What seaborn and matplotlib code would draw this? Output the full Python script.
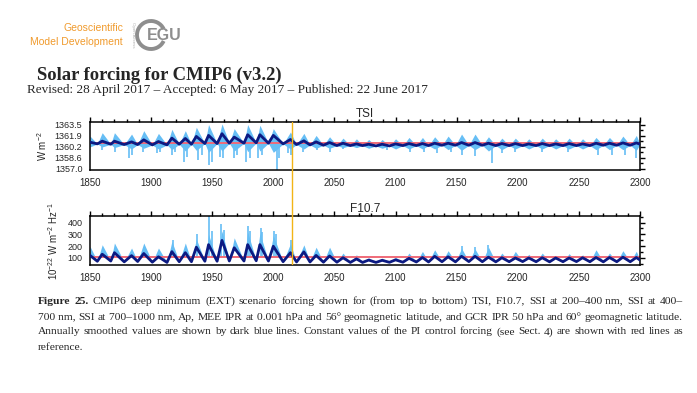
import numpy as np
import pandas as pd
import matplotlib
matplotlib.use("Agg")
import matplotlib.pyplot as plt
import seaborn as sns
from matplotlib.ticker import MultipleLocator, AutoMinorLocator
from matplotlib.patches import Arc
import matplotlib.transforms as mtransforms

# ------------------------------------------------------------------ data
# solar-cycle turning points (years)
max_years = [1850, 1860, 1870, 1884, 1894, 1906, 1917, 1928, 1937, 1947,
             1958, 1968, 1979, 1989, 2000, 2014, 2025, 2035, 2046, 2057,
             2068, 2078, 2089, 2100, 2111, 2122, 2132, 2143, 2154, 2165,
             2176, 2187, 2198, 2209, 2220, 2231, 2242, 2253, 2264, 2275,
             2286, 2297]
min_years = [1856, 1867, 1878, 1889, 1901, 1913, 1923, 1933, 1944, 1954,
             1964, 1976, 1986, 1996, 2008, 2019, 2030, 2041, 2052, 2063,
             2073, 2084, 2095, 2106, 2117, 2127, 2138, 2149, 2160, 2171,
             2182, 2193, 2204, 2215, 2226, 2237, 2248, 2259, 2270, 2281,
             2292, 2300]

# TSI (W m-2): annually smoothed values at maxima / minima, monthly band at maxima
tsi_at_max = [1360.90, 1361.05, 1361.05, 1360.95, 1361.25, 1361.00, 1361.50, 1361.45, 1361.75, 1361.90,
              1362.15, 1361.65, 1362.00, 1362.00, 1361.90, 1361.30, 1361.10, 1360.95, 1360.85, 1360.75,
              1360.65, 1360.60, 1360.60, 1360.65, 1360.70, 1360.70, 1360.75, 1360.75, 1360.85, 1360.85,
              1360.75, 1360.70, 1360.70, 1360.65, 1360.70, 1360.65, 1360.70, 1360.65, 1360.75, 1360.75,
              1360.80, 1360.80]
tsi_at_min = [1360.65, 1360.60, 1360.55, 1360.55, 1360.50, 1360.50, 1360.60, 1360.60, 1360.70, 1360.70,
              1360.75, 1360.75, 1360.80, 1360.75, 1360.65, 1360.55, 1360.50, 1360.45, 1360.40, 1360.40,
              1360.40, 1360.35, 1360.35, 1360.40, 1360.40, 1360.40, 1360.45, 1360.45, 1360.45, 1360.45,
              1360.40, 1360.40, 1360.40, 1360.40, 1360.40, 1360.40, 1360.40, 1360.40, 1360.45, 1360.45,
              1360.45, 1360.60]
tsi_hi_at_max = [1361.8, 1362.3, 1362.3, 1362.1, 1362.6, 1362.2, 1362.8, 1362.6, 1363.1, 1363.5,
                 1363.6, 1362.9, 1363.5, 1363.4, 1362.9, 1362.4, 1362.2, 1361.9, 1361.7, 1361.5,
                 1361.4, 1361.3, 1361.3, 1361.4, 1361.6, 1361.6, 1361.7, 1361.8, 1362.1, 1362.1,
                 1361.7, 1361.5, 1361.5, 1361.4, 1361.5, 1361.4, 1361.5, 1361.4, 1361.6, 1361.6,
                 1361.8, 1361.9]
tsi_lo_at_max = [1360.2, 1360.2, 1360.1, 1359.9, 1360.0, 1359.9, 1359.8, 1359.6, 1359.7, 1359.4,
                 1359.6, 1359.6, 1359.5, 1359.6, 1359.4, 1359.9, 1359.9, 1360.0, 1360.0, 1360.1,
                 1360.1, 1360.0, 1360.0, 1359.9, 1359.9, 1359.9, 1359.9, 1359.8, 1359.7, 1359.8,
                 1359.6, 1359.8, 1359.9, 1359.9, 1359.9, 1359.9, 1359.9, 1359.9, 1359.8, 1359.8,
                 1359.8, 1359.7]
# sunspot dips of monthly TSI
tsi_dip_years = [1859.5, 1870.5, 1881.5, 1884.0, 1893.5, 1904.5, 1907.5, 1917.0, 1919.5, 1926.5,
                 1929.0, 1938.5, 1941.5, 1947.0, 1949.5, 1956.5, 1959.0, 1967.5, 1970.0, 1978.0,
                 1981.0, 1987.5, 1990.5, 2003.0, 2005.0, 2012.0, 2014.5, 2024.5, 2035.5, 2046.5,
                 2057.0, 2093.0, 2112.0, 2123.0, 2134.0, 2145.0, 2154.0, 2165.0, 2178.5, 2187.0,
                 2198.0, 2219.5, 2241.0, 2266.0, 2277.0, 2288.0, 2297.0]
tsi_dip_values = [1359.75, 1359.50, 1358.50, 1359.00, 1359.50, 1359.25, 1359.50, 1359.00, 1359.50, 1358.00,
                  1358.75, 1358.30, 1359.00, 1357.50, 1358.00, 1358.75, 1358.50, 1358.50, 1359.00, 1358.00,
                  1358.50, 1358.50, 1359.00, 1356.85, 1358.50, 1359.25, 1359.00, 1359.50, 1359.75, 1359.50,
                  1359.90, 1359.75, 1359.50, 1359.50, 1359.25, 1359.50, 1359.00, 1358.80, 1357.80, 1359.25,
                  1359.50, 1359.50, 1359.50, 1359.00, 1359.00, 1359.00, 1358.60]

# F10.7 (1e-22 W m-2 Hz-1)
f107_at_max = [120, 130, 143, 118, 136, 108, 152, 143, 190, 212,
               248, 185, 212, 212, 198, 143, 150, 120, 115, 100,
               90, 80, 78, 82, 95, 102, 112, 108, 112, 112,
               105, 100, 98, 98, 100, 98, 98, 100, 102, 102,
               105, 102]
f107_at_min = [70, 72, 65, 68, 62, 60, 66, 66, 70, 70,
               72, 72, 74, 72, 66, 64, 64, 62, 62, 60,
               60, 60, 61, 62, 64, 64, 66, 65, 67, 66,
               65, 66, 67, 66, 65, 66, 67, 66, 65, 66,
               66, 80]
f107_hi_at_max = [197, 211, 226, 183, 226, 183, 240, 226, 260, 300,
                  330, 270, 320, 310, 290, 220, 210, 190, 190, 140,
                  126, 100, 97, 105, 140, 154, 168, 160, 180, 175,
                  190, 140, 154, 130, 140, 120, 135, 125, 168, 140,
                  160, 155]
f107_spike_years = [1917.5, 1937.5, 1947.0, 1949.5, 1957.0, 1959.5, 1979.0, 1981.0, 1989.5, 1991.0,
                    2000.5, 2002.0, 2014.5, 2154.0, 2165.0, 2176.0]
f107_spike_values = [250, 300, 452, 330, 385, 340, 370, 330, 355, 320,
                     330, 300, 255, 197, 190, 211]

tsi_pi = 1360.75
f107_pi = 103.0
scenario_start = 2015

x_ticks = [1850, 1900, 1950, 2000, 2050, 2100, 2150, 2200, 2250, 2300]
tsi_ticks = [1357.0, 1358.625, 1360.25, 1361.875, 1363.5]
tsi_tick_labels = ["1357.0", "1358.6", "1360.2", "1361.9", "1363.5"]
f107_ticks = [100, 200, 300, 400]
f107_tick_labels = ["100", "200", "300", "400"]

caption_lines = [
    "Figure 25. CMIP6 deep minimum (EXT) scenario forcing shown for (from top to bottom) TSI, F10.7, SSI at 200\u2013400\u00a0nm, SSI at 400\u2013",
    "700\u00a0nm, SSI at 700\u20131000\u00a0nm, Ap, MEE IPR at 0.001\u00a0hPa and 56\u00b0 geomagnetic latitude, and GCR IPR 50\u00a0hPa and 60\u00b0 geomagnetic latitude.",
    "Annually smoothed values are shown by dark blue lines. Constant values of the PI control forcing (see Sect. 4) are shown with red lines as",
    "reference.",
]

# ------------------------------------------------------------------ style
sns.set_style("white")
plt.rcParams["font.family"] = ["Liberation Sans", "DejaVu Sans"]
plt.rcParams["mathtext.fontset"] = "custom"
plt.rcParams["mathtext.rm"] = "Liberation Sans"
plt.rcParams["mathtext.it"] = "Liberation Sans:italic"
plt.rcParams["mathtext.bf"] = "Liberation Sans:bold"
SERIF = ["Liberation Serif", "DejaVu Serif"]

LIGHT = "#66bef5"
NAVY = "#0c1a82"
RED = "#ef6a78"
ORANGE = "#f2b416"
HEAD_ORANGE = "#f09a2c"
GREY = "#8e8e8e"

W, H = 697, 393
fig = plt.figure(figsize=(W / 100, H / 100), dpi=100)
fig.patch.set_facecolor("white")


def build(vmax, hi_max, lo_max, vmin):
    df = pd.DataFrame({
        "year": list(max_years) + list(min_years),
        "smooth": list(vmax) + list(vmin),
        "hi": list(hi_max) + list(vmin),
        "lo": list(lo_max) + list(vmin),
    })
    return df.sort_values("year").reset_index(drop=True)


tsi_df = build(tsi_at_max, tsi_hi_at_max, tsi_lo_at_max, tsi_at_min)
f107_df = build(f107_at_max, f107_hi_at_max, f107_at_max, f107_at_min)

ax1 = fig.add_axes([90 / W, 1 - 170 / H, 550 / W, 48.5 / H])
ax2 = fig.add_axes([90 / W, 1 - 265 / H, 550 / W, 48.5 / H])

panels = [
    (ax1, tsi_df, tsi_pi, (1356.8, 1363.95), tsi_ticks, tsi_tick_labels, "TSI",
     "W m$^{-2}$", -0.075, tsi_dip_years, tsi_dip_values),
    (ax2, f107_df, f107_pi, (38, 452), f107_ticks, f107_tick_labels, "F10.7",
     "10$^{-22}$ W m$^{-2}$ Hz$^{-1}$", -0.054, f107_spike_years, f107_spike_values),
]

for ax, df, pi, ylim, yt, ytl, title, ylab, labx, sp_x, sp_y in panels:
    ax.fill_between(df["year"], df["lo"], df["hi"], color=LIGHT, lw=0, zorder=1)
    ax.vlines(sp_x, [pi] * len(sp_x), sp_y, color=LIGHT, lw=1.2, zorder=1)
    ax.axhline(pi, color=RED, lw=1.4, zorder=2)
    sns.lineplot(data=df, x="year", y="smooth", ax=ax, color=NAVY, lw=2.0,
                 zorder=3, sort=True)
    ax.axvline(scenario_start, color=ORANGE, lw=1.0, zorder=4)
    ax.set_xlim(1850, 2300)
    ax.set_ylim(*ylim)
    ax.set_xticks(x_ticks)
    ax.set_xticklabels([str(v) for v in x_ticks])
    ax.xaxis.set_minor_locator(MultipleLocator(10))
    ax.set_yticks(yt)
    ax.set_yticklabels(ytl)
    ax.yaxis.set_minor_locator(AutoMinorLocator(2))
    ax.tick_params(which="both", direction="out", top=True, right=True,
                   labeltop=False, labelright=False, width=1.0, color="black")
    ax.tick_params(which="major", length=3.5, pad=2)
    ax.tick_params(which="minor", length=2.0)
    ax.tick_params(axis="x", labelsize=7, pad=2.5)
    ax.tick_params(axis="y", labelsize=6.5)
    for sp in ax.spines.values():
        sp.set_linewidth(1.1)
        sp.set_color("black")
        sp.set_visible(True)
    ax.set_xlabel("")
    ax.set_ylabel(ylab, fontsize=7)
    ax.yaxis.set_label_coords(labx, 0.5)
    ax.set_title(title, fontsize=8.5, pad=3)
    ax.set_facecolor("white")

# orange line linking both panels (scenario start)
trans = mtransforms.blended_transform_factory(ax1.transData, fig.transFigure)
fig.add_artist(plt.Line2D([scenario_start, scenario_start],
                          [1 - 265 / H + 48.5 / H, 1 - 170 / H],
                          transform=trans, color=ORANGE, lw=1.0, zorder=5))

# ------------------------------------------------------------------ header
fig.text(123 / W, 1 - 28 / H, "Geoscientific", ha="right", va="center",
         color=HEAD_ORANGE, fontsize=7.5)
fig.text(123 / W, 1 - 42 / H, "Model Development", ha="right", va="center",
         color=HEAD_ORANGE, fontsize=7.5)
fig.text(133 / W, 1 - 35 / H, "Open Access", ha="center", va="center",
         rotation=270, color="#b0b0b0", fontsize=3.2)
fig.add_artist(Arc((151 / W, 1 - 35 / H), 28 / W, 28 / H, theta1=40, theta2=320,
                   transform=fig.transFigure, color=GREY, lw=2.8))
fig.text(147 / W, 1 - 35 / H, "EGU", ha="left", va="center", color=GREY,
         fontsize=11.5, fontweight="bold")

fig.canvas.draw()
renderer = fig.canvas.get_renderer()


def text_width(s, size, weight="normal", family=SERIF):
    t = fig.text(0, 0, s, fontsize=size, fontweight=weight, family=family)
    w = t.get_window_extent(renderer).width
    t.remove()
    return w


def fit_text(x0, x1, ybase, s, weight="normal", base=10.0):
    size = base * (x1 - x0) / text_width(s, base, weight)
    fig.text(x0 / W, 1 - ybase / H, s, fontsize=size, fontweight=weight,
             family=SERIF, ha="left", va="baseline")


fit_text(37, 283, 80, "Solar forcing for CMIP6 (v3.2)", weight="bold")
fit_text(27, 429, 93,
         "Revised: 28 April 2017 \u2013 Accepted: 6 May 2017 \u2013 Published: 22 June 2017")

# ------------------------------------------------------------------ caption (justified)
X0, X1 = 38, 683
baselines = [303.5, 319.5, 334.5, 349.5]
base = 10.0
space_w = text_width("a a", base) - text_width("aa", base)


def tokens(line, idx):
    out = []
    for k, wd in enumerate(line.split(" ")):
        bold = idx == 0 and k < 2
        out.append((wd, "bold" if bold else "normal"))
    return out


nat = []
for i, line in enumerate(caption_lines[:3]):
    toks = tokens(line, i)
    nat.append(sum(text_width(w, base, wt) for w, wt in toks) + space_w * (len(toks) - 1))
size = base * (X1 - X0) / max(nat)

for i, line in enumerate(caption_lines):
    toks = tokens(line, i)
    widths = [text_width(w, size, wt) for w, wt in toks]
    if i < 3 and len(toks) > 1:
        gap = (X1 - X0 - sum(widths)) / (len(toks) - 1)
    else:
        gap = space_w * size / base
    x = X0
    for (wd, wt), w in zip(toks, widths):
        fig.text(x / W, 1 - baselines[i] / H, wd, fontsize=size, fontweight=wt,
                 family=SERIF, ha="left", va="baseline")
        x += w + gap

fig.savefig("out.png", dpi=100, facecolor="white")
